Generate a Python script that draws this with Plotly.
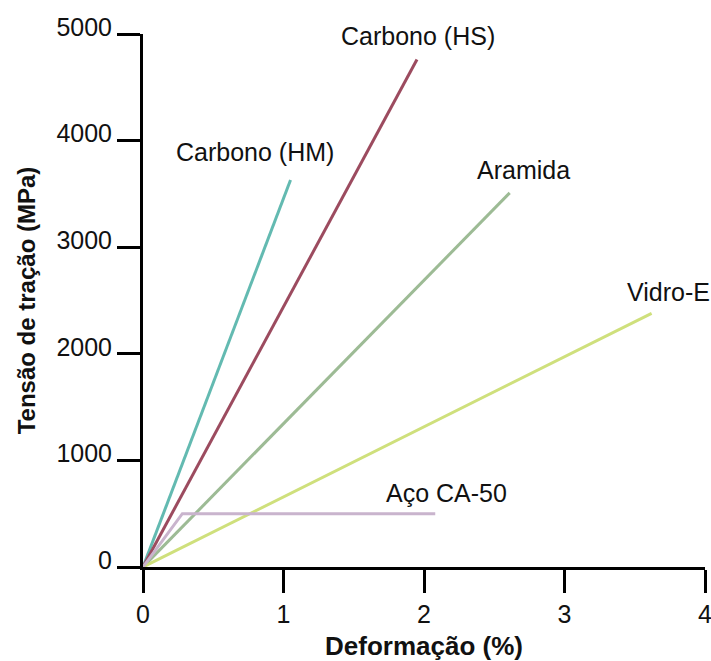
import plotly.graph_objects as go

# Data (strain %, tensile stress MPa)
materials = ["Carbono (HM)", "Carbono (HS)", "Aramida", "Vidro-E", "Aço CA-50"]
strain = {
    "Carbono (HM)": [0, 1.05],
    "Carbono (HS)": [0, 1.95],
    "Aramida": [0, 2.61],
    "Vidro-E": [0, 3.62],
    "Aço CA-50": [0, 0.28, 2.08],
}
stress = {
    "Carbono (HM)": [0, 3630],
    "Carbono (HS)": [0, 4760],
    "Aramida": [0, 3510],
    "Vidro-E": [0, 2380],
    "Aço CA-50": [0, 500, 500],
}
colors = {
    "Carbono (HM)": "#63bab1",
    "Carbono (HS)": "#9c4b5f",
    "Aramida": "#9dbb95",
    "Vidro-E": "#cfe07c",
    "Aço CA-50": "#c9b4cd",
}
# label anchor positions (data coords)
label_pos = {
    "Carbono (HM)": (0.80, 3890),
    "Carbono (HS)": (1.96, 4980),
    "Aramida": (2.71, 3720),
    "Vidro-E": (3.74, 2580),
    "Aço CA-50": (2.16, 690),
}
x_ticks = [0, 1, 2, 3, 4]
y_ticks = [0, 1000, 2000, 3000, 4000, 5000]

FONT = "Liberation Sans, Arial, sans-serif"

fig = go.Figure()
for m in materials:
    fig.add_trace(go.Scatter(x=strain[m], y=stress[m], mode="lines",
                             line=dict(color=colors[m], width=3),
                             name=m, showlegend=False, cliponaxis=False))
    lx, ly = label_pos[m]
    fig.add_annotation(x=lx, y=ly, text=m, showarrow=False,
                       font=dict(family=FONT, size=25, color="#111"))

axis_common = dict(showline=True, linewidth=3, linecolor="black",
                   ticks="outside", ticklen=23, tickwidth=3, tickcolor="black",
                   showgrid=False, zeroline=False, ticklabeloverflow="allow",
                   automargin=False,
                   tickfont=dict(family=FONT, size=25, color="#111"))

fig.update_xaxes(range=[0, 4], tickvals=x_ticks,
                 title=dict(text="<b>Deformação (%)</b>",
                            font=dict(family=FONT, size=26, color="#111"),
                            standoff=10),
                 **axis_common)
fig.update_yaxes(range=[0, 5000], tickvals=y_ticks, ticklabelshift=-7,
                 title=dict(text="<b>Tensão de tração (MPa)</b>",
                            font=dict(family=FONT, size=24, color="#111"),
                            standoff=14),
                 **axis_common)

fig.update_layout(width=711, height=661,
                  margin=dict(l=143, r=6, t=34, b=94),
                  plot_bgcolor="white", paper_bgcolor="white")

fig.write_html("out.html")
